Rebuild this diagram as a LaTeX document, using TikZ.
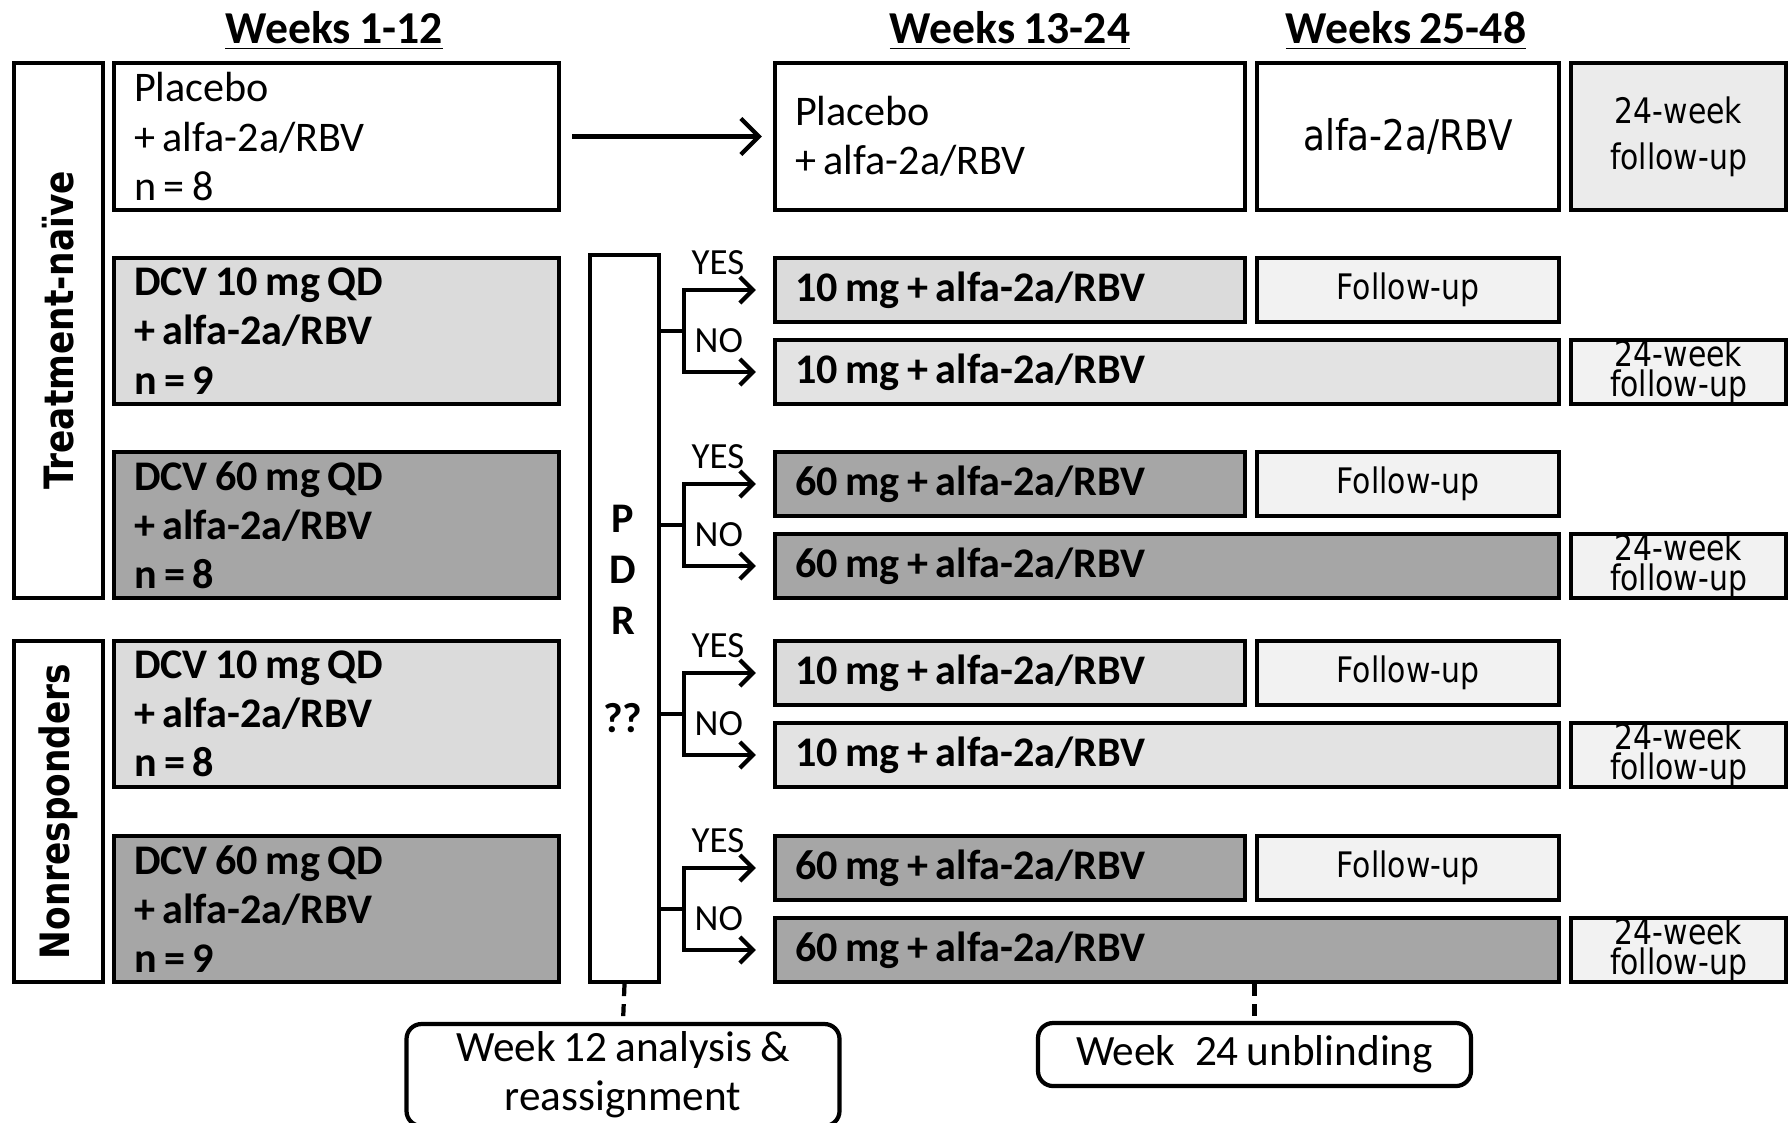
\documentclass[tikz,border=0pt]{standalone}
\usepackage{fontspec}
\setmainfont{Carlito}[WordSpace=0.8]
\newfontfamily\tahoma[FakeStretch=0.85]{DejaVu Sans}
\usetikzlibrary{arrows.meta}

\begin{document}
\begin{tikzpicture}[armbox/.style={draw,line width=1.2pt,inner xsep=0.2cm,inner ysep=0pt,align=flush left,font=\fontsize{12}{14}\selectfont},
                    armlow/.style={armbox,fill=black!14,font=\fontsize{12}{14}\selectfont\bfseries},
                    armhigh/.style={armbox,fill=black!35,font=\fontsize{12}{14}\selectfont\bfseries},
                    fubox/.style={armbox,fill=black!5,align=center,font=\tahoma\fontsize{10}{13}\selectfont},
                    sidebox/.style={draw,line width=1.2pt,rotate=90,inner sep=0pt,font=\tahoma\bfseries\fontsize{11.5}{13}\selectfont},
                    weektitle/.style={anchor=base,inner sep=0pt,font=\fontsize{13}{15}\selectfont\bfseries},
                    answerlbl/.style={anchor=west,inner sep=0pt,font=\fontsize{10.5}{12}\selectfont},
                    pdrletter/.style={inner sep=0pt,font=\fontsize{12}{14}\selectfont\bfseries},
                    eventbox/.style={draw,line width=1.2pt,rounded corners=0.15cm,align=center,inner sep=0pt,font=\fontsize{12.3}{14}\selectfont},
                    forkstem/.style={line width=1.2pt},
                    forkarrow/.style={line width=1.2pt,-{Straight Barb[length=0.13cm,width=0.26cm]},shorten >=0.17cm},
                    timeline/.style={line width=1.2pt,dash pattern=on 0.12cm off 0.08cm}
]
\useasboundingbox (0,0) rectangle (17.88,-11.22);
%
\node [weektitle] at (3.34,-0.43) (wk1) {\underline{Weeks 1-12}};
\node [weektitle] at (10.10,-0.43) (wk13) {\underline{Weeks 13-24}};
\node [weektitle] at (14.06,-0.43) (wk25) {\underline{Weeks 25-48}};
%
\node [sidebox, minimum width=5.35cm, minimum height=0.89cm] at (0.585,-3.305) (naive) {Treatment-naïve};
\node [sidebox, minimum width=3.41cm, minimum height=0.89cm] at (0.585,-8.115) (nonresp) {Nonresponders};
%
\node [armbox, text width=4.05cm, minimum height=1.47cm] at (3.365,-1.365) (placebo) {Placebo\\+ alfa-2a/RBV\\n = 8};
\node [armlow, text width=4.05cm, minimum height=1.46cm] at (3.365,-3.31) (naive10) {DCV 10 mg QD\\+ alfa-2a/RBV\\n = 9};
\node [armhigh, text width=4.05cm, minimum height=1.46cm] at (3.365,-5.25) (naive60) {DCV 60 mg QD\\+ alfa-2a/RBV\\n = 8};
\node [armlow, text width=4.05cm, minimum height=1.46cm] at (3.365,-7.14) (nonresp10) {DCV 10 mg QD\\+ alfa-2a/RBV\\n = 8};
\node [armhigh, text width=4.05cm, minimum height=1.46cm] at (3.365,-9.09) (nonresp60) {DCV 60 mg QD\\+ alfa-2a/RBV\\n = 9};
%
\node [armbox, inner xsep=0pt, minimum width=0.69cm, minimum height=7.27cm] at (6.245,-6.185) (pdr) {};
\node [pdrletter] at (6.23,-5.19) (pdrP) {P};
\node [pdrletter] at (6.23,-5.70) (pdrD) {D};
\node [pdrletter] at (6.23,-6.21) (pdrR) {R};
\node [pdrletter] at (6.23,-7.18) (pdrQ) {??};
%
\node [armbox, text width=4.30cm, minimum height=1.47cm] at (10.10,-1.365) (placebo2) {Placebo\\+ alfa-2a/RBV};
\node [armbox, align=center, text width=2.62cm, minimum height=1.47cm, font=\tahoma\fontsize{12}{14}\selectfont] at (14.08,-1.365) (rbv) {alfa-2a/RBV};
\node [fubox, fill=black!8, text width=1.75cm, minimum height=1.47cm] at (16.785,-1.365) (fu0) {24-week\\follow-up};
%
\node [armlow, text width=4.30cm, minimum height=0.64cm] at (10.10,-2.90) (yes1) {10 mg + alfa-2a/RBV};
\node [fubox, text width=2.62cm, minimum height=0.64cm] at (14.08,-2.90) (fuyes1) {Follow-up};
\node [armlow, fill=black!11, text width=7.44cm, minimum height=0.64cm] at (11.67,-3.72) (no1) {10 mg + alfa-2a/RBV};
\node [fubox, text width=1.75cm, minimum height=0.64cm, font=\tahoma\fontsize{10}{8.5}\selectfont] at (16.785,-3.72) (funo1) {24-week\\follow-up};
%
\node [armhigh, text width=4.30cm, minimum height=0.64cm] at (10.10,-4.84) (yes2) {60 mg + alfa-2a/RBV};
\node [fubox, text width=2.62cm, minimum height=0.64cm] at (14.08,-4.84) (fuyes2) {Follow-up};
\node [armhigh, text width=7.44cm, minimum height=0.64cm] at (11.67,-5.66) (no2) {60 mg + alfa-2a/RBV};
\node [fubox, text width=1.75cm, minimum height=0.64cm, font=\tahoma\fontsize{10}{8.5}\selectfont] at (16.785,-5.66) (funo2) {24-week\\follow-up};
%
\node [armlow, text width=4.30cm, minimum height=0.64cm] at (10.10,-6.73) (yes3) {10 mg + alfa-2a/RBV};
\node [fubox, text width=2.62cm, minimum height=0.64cm] at (14.08,-6.73) (fuyes3) {Follow-up};
\node [armlow, fill=black!11, text width=7.44cm, minimum height=0.64cm] at (11.67,-7.55) (no3) {10 mg + alfa-2a/RBV};
\node [fubox, text width=1.75cm, minimum height=0.64cm, font=\tahoma\fontsize{10}{8.5}\selectfont] at (16.785,-7.55) (funo3) {24-week\\follow-up};
%
\node [armhigh, text width=4.30cm, minimum height=0.64cm] at (10.10,-8.68) (yes4) {60 mg + alfa-2a/RBV};
\node [fubox, text width=2.62cm, minimum height=0.64cm] at (14.08,-8.68) (fuyes4) {Follow-up};
\node [armhigh, text width=7.44cm, minimum height=0.64cm] at (11.67,-9.50) (no4) {60 mg + alfa-2a/RBV};
\node [fubox, text width=1.75cm, minimum height=0.64cm, font=\tahoma\fontsize{10}{8.5}\selectfont] at (16.785,-9.50) (funo4) {24-week\\follow-up};
%
\node [eventbox, minimum width=4.33cm, minimum height=1.02cm] at (6.23,-10.75) (wk12) {Week 12 analysis \&\\reassignment};
\node [eventbox, minimum width=4.33cm, minimum height=0.63cm] at (12.545,-10.545) (unblind) {Week\hspace{0.45em}24 unblinding};
%
\draw [line width=1.2pt, -{Straight Barb[length=0.18cm,width=0.36cm]}, shorten <=0.11cm, shorten >=0.11cm] (placebo) -- (placebo2);
%
\coordinate (f1) at (6.84,-3.31);
\coordinate (f2) at (6.84,-5.25);
\coordinate (f3) at (6.84,-7.14);
\coordinate (f4) at (6.84,-9.09);
\draw [forkstem] (pdr.east |- f1) -- (f1);
\draw [forkstem] (pdr.east |- f2) -- (f2);
\draw [forkstem] (pdr.east |- f3) -- (f3);
\draw [forkstem] (pdr.east |- f4) -- (f4);
\draw [forkarrow] (f1) |- (yes1);
\draw [forkarrow] (f1) |- (no1);
\draw [forkarrow] (f2) |- (yes2);
\draw [forkarrow] (f2) |- (no2);
\draw [forkarrow] (f3) |- (yes3);
\draw [forkarrow] (f3) |- (no3);
\draw [forkarrow] (f4) |- (yes4);
\draw [forkarrow] (f4) |- (no4);
%
\node [answerlbl] at (6.91,-2.63) (yeslbl1) {YES};
\node [answerlbl] at (6.94,-3.41) (nolbl1) {NO};
\node [answerlbl] at (6.91,-4.57) (yeslbl2) {YES};
\node [answerlbl] at (6.94,-5.35) (nolbl2) {NO};
\node [answerlbl] at (6.91,-6.46) (yeslbl3) {YES};
\node [answerlbl] at (6.94,-7.24) (nolbl3) {NO};
\node [answerlbl] at (6.91,-8.41) (yeslbl4) {YES};
\node [answerlbl] at (6.94,-9.19) (nolbl4) {NO};
%
\draw [timeline] (pdr.south) -- (wk12.north);
\draw [timeline] (unblind.north |- no4.south) -- (unblind.north);
\end{tikzpicture}
\end{document}
